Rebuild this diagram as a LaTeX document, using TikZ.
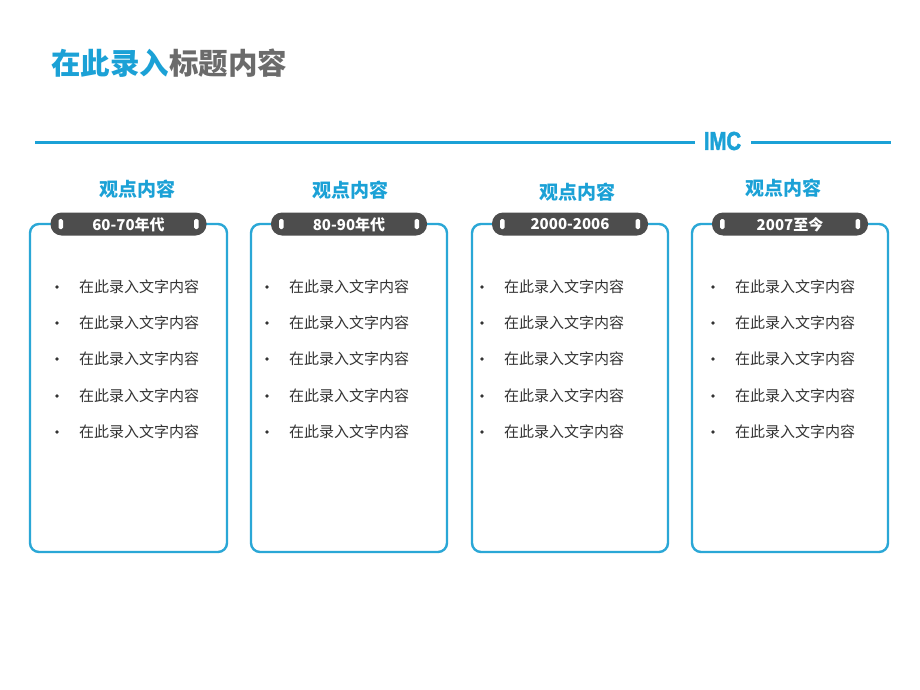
\documentclass[tikz,border=0pt]{standalone}
\usepackage{fontspec}
\newfontfamily\cjk{Noto Sans CJK SC}
\newfontfamily\imcfont[FakeBold=2.2]{Liberation Sans}
\definecolor{mainblue}{HTML}{1BA1D6}
\definecolor{boxblue}{HTML}{2AA7D6}
\definecolor{pillgray}{HTML}{4D4D4D}
\definecolor{titlegray}{HTML}{6B6B6B}
\definecolor{bodytext}{HTML}{333333}
\begin{document}
\begin{tikzpicture}[x=1pt,y=-1pt,
  panelbox/.style={draw=boxblue,line width=2.4pt,rounded corners=9pt},
  pill/.style={fill=pillgray,rounded corners=11pt},
  hole/.style={fill=white,rounded corners=1.5pt},
  heading/.style={font=\cjk\bfseries\fontsize{19}{19}\selectfont,text=mainblue},
  pilltext/.style={font=\cjk\bfseries\fontsize{15}{15}\selectfont,text=white},
  item/.style={font=\cjk\fontsize{15}{15}\selectfont,text=bodytext,anchor=west,inner sep=0pt},
  dot/.style={circle,fill=bodytext,inner sep=0pt,minimum size=3.8pt}
]
\useasboundingbox[fill=white] (0,0) rectangle (920,690);
% title
\node[anchor=west,inner sep=0pt,font=\cjk\bfseries\fontsize{29.5}{30}\selectfont] (title) at (51,63)
  {\textcolor{mainblue}{在此录入}\textcolor{titlegray}{标题内容}};
% top rule
\node[inner sep=0pt,text=mainblue,font=\imcfont\bfseries\fontsize{26}{26}\selectfont] (imc) at (722.5,141)
  {\scalebox{0.78}[1.0]{IMC}};
\coordinate (ruleL) at (35,142);
\coordinate (ruleR) at (891,142);
\draw[mainblue,line width=3pt] (ruleL) -- ([xshift=-9pt]imc.west |- ruleL);
\draw[mainblue,line width=3pt] ([xshift=10pt]imc.east |- ruleR) -- (ruleR);
% panels
\foreach \i/\xl/\xr/\hx/\hy/\lab in {1/30/227/137/189/60-70年代,2/251/447/350/190/80-90年代,3/472/668/577/192/2000-2006,4/692/888/783/188/2007至今}{
  \draw[panelbox] (\xl,224) rectangle (\xr,552);
  \coordinate (c\i) at ({(\xl+\xr)/2},224);
  \fill[pill] ([xshift=-78pt,yshift=-11.5pt]c\i) rectangle ([xshift=78pt,yshift=11.5pt]c\i);
  \fill[hole] ([xshift=-70pt,yshift=-5pt]c\i) rectangle ([xshift=-65.5pt,yshift=5pt]c\i);
  \fill[hole] ([xshift=65.5pt,yshift=-5pt]c\i) rectangle ([xshift=70pt,yshift=5pt]c\i);
  \node[pilltext] (p\i) at ([yshift=-0.5pt]c\i) {\lab};
  \node[heading] (h\i) at (\hx,\hy) {观点内容};
}
% bullet lists
\foreach \i/\bx in {1/57,2/267,3/482,4/713}{
  \foreach \j/\y in {1/287,2/323,3/359,4/396,5/432}{
    \node[dot] (d\i\j) at (\bx,\y) {};
    \node[item] (t\i\j) at (\bx+22,\y) {在此录入文字内容};
  }
}
\end{tikzpicture}
\end{document}
